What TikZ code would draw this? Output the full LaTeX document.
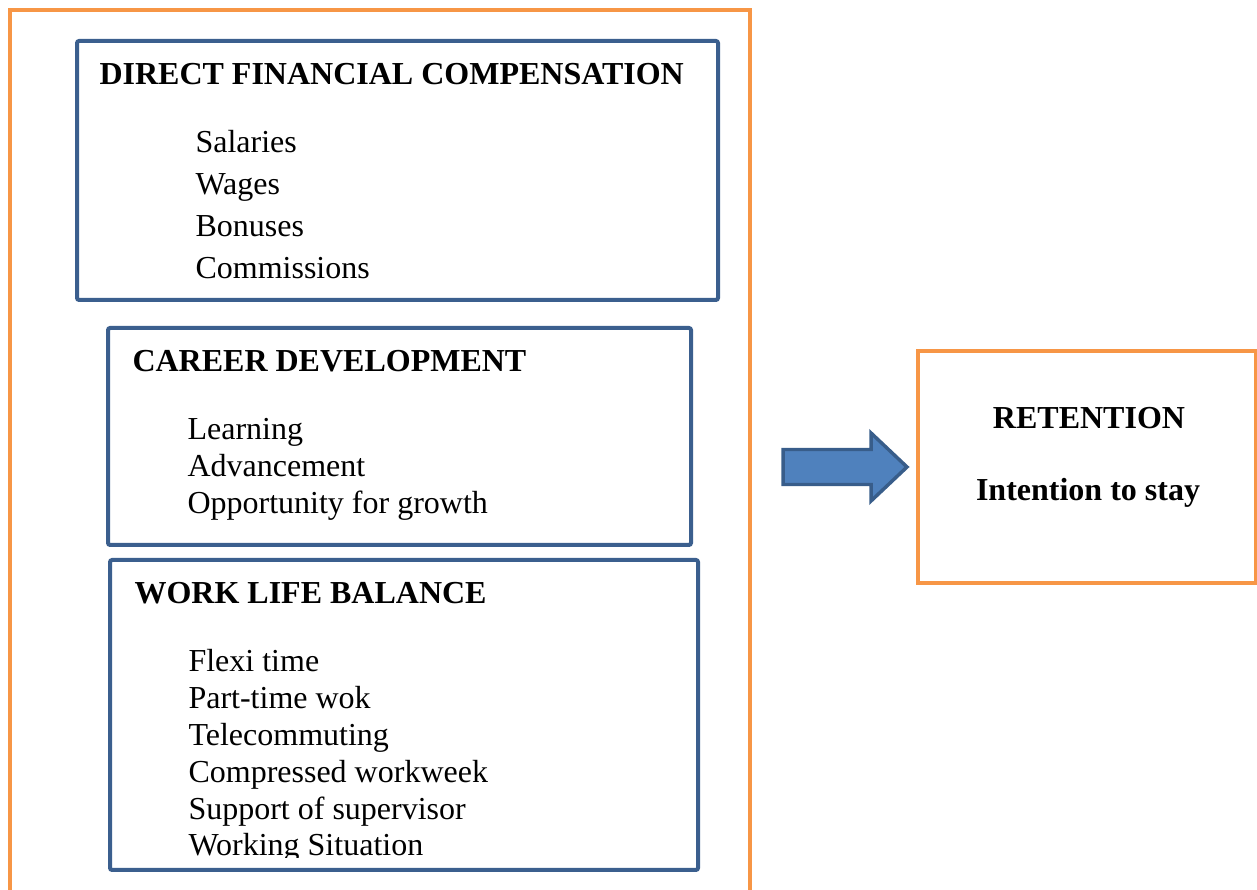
\documentclass[tikz,border=0pt]{standalone}
\usepackage{fontspec}
\setmainfont{Liberation Serif}

\definecolor{boxorange}{HTML}{F79646}
\definecolor{boxblue}{HTML}{3B5F8E}
\definecolor{arrowfill}{HTML}{4F81BD}
\definecolor{arrowline}{HTML}{385D8A}

\tikzset{
    orangebox/.style={draw=boxorange, line width=1.5pt},
    bluebox/.style={draw=boxblue, line width=1.5pt, rounded corners=0.8pt},
    heading/.style={anchor=base west, inner sep=0pt, font=\fontsize{12}{14}\selectfont\bfseries},
    item/.style={anchor=base west, inner sep=0pt, font=\fontsize{12}{14}\selectfont},
}

\begin{document}
\begin{tikzpicture}[x=0.375pt, y=0.375pt]
    \useasboundingbox (0,0) rectangle (1257,890);

    % outer frame
    \draw[orangebox] (10,-10) rectangle (750,880);

    %1
    \draw[bluebox] (77,590) rectangle (718,849);
    \node[heading] (dfc) at (99,805) {DIRECT FINANCIAL COMPENSATION};
    \node[item] (dfc1) at (195,737) {Salaries};
    \node[item] (dfc2) at (195,695) {Wages};
    \node[item] (dfc3) at (195,653) {Bonuses};
    \node[item] (dfc4) at (195,611) {Commissions};

    %2
    \draw[bluebox] (108,345) rectangle (691,562);
    \node[heading] (cd) at (132,518) {CAREER DEVELOPMENT};
    \node[item] (cd1) at (187,450) {Learning};
    \node[item] (cd2) at (187,413) {Advancement};
    \node[item] (cd3) at (187,376) {Opportunity for growth};

    %3
    \draw[bluebox] (110,20) rectangle (698,330);
    \node[heading] (wlb) at (134,286) {WORK LIFE BALANCE};
    \begin{scope}
    \clip (110,32) rectangle (698,330);
    \node[item] (wlb1) at (188,218) {Flexi time};
    \node[item] (wlb2) at (188,181) {Part-time wok};
    \node[item] (wlb3) at (188,144) {Telecommuting};
    \node[item] (wlb4) at (188,107) {Compressed workweek};
    \node[item] (wlb5) at (188,70) {Support of supervisor};
    \node[item] (wlb6) at (188,34) {Working Situation};
    \end{scope}

    % block arrow
    \draw[fill=arrowfill, draw=arrowline, line width=1.3pt]
        (783,440.5) -- (871,440.5) -- (871,457) -- (907,423)
        -- (871,389) -- (871,405.5) -- (783,405.5) -- cycle;

    % outcome
    \draw[orangebox] (918,307) rectangle (1256,539);
    \node[heading, anchor=base] (ret) at (1089,461) {RETENTION};
    \node[heading, anchor=base] (stay) at (1088,389) {Intention to stay};
\end{tikzpicture}
\end{document}
